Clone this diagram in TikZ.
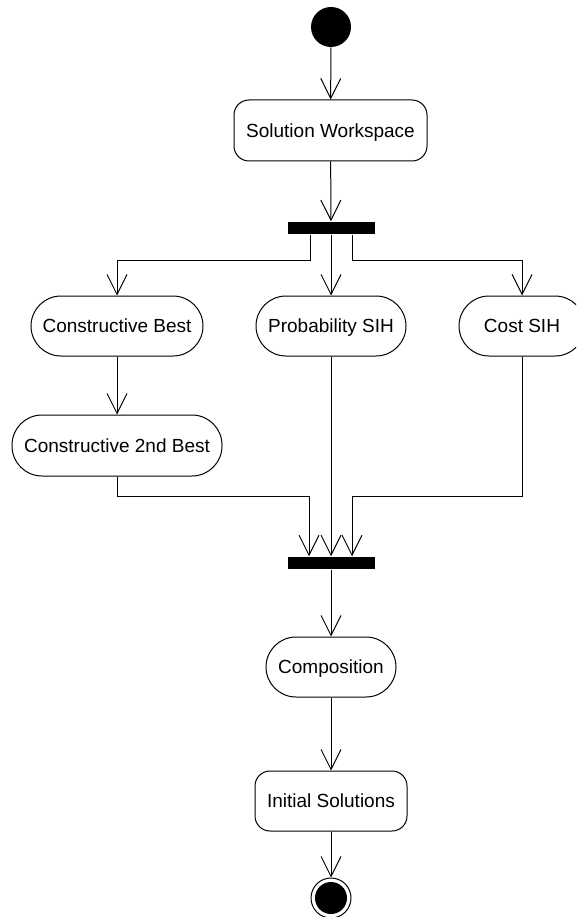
\documentclass[tikz,border=0pt]{standalone}
\usepackage{fontspec}
\setmainfont{Liberation Sans}
\usetikzlibrary{arrows.meta,calc}
\begin{document}
\begin{tikzpicture}[x=1pt,y=-1pt,
  line width=1pt,
  every node/.style={inner sep=0pt,text height=13.6pt,text depth=0pt,
    font=\fontsize{19}{22}\selectfont},
  stadium/.style={draw,rectangle,rounded corners=30pt,minimum height=60pt},
  state/.style={draw,rectangle,rounded corners=15pt,minimum height=61pt},
  bar/.style={fill=black,rectangle,minimum width=87pt,minimum height=12.5pt,text height=0pt},
  arr/.style={-{Straight Barb[length=20pt,width=20pt,line width=1pt]}}]
\useasboundingbox (0,0) rectangle (576,917);
\clip (0,0) rectangle (576,917);

% initial and final markers
\node[circle,fill=black,minimum size=40pt,text height=0pt] (start) at (331,27) {};
\node[circle,draw,minimum size=40pt,text height=0pt,
  path picture={\fill (path picture bounding box.center) circle (16pt);}] (stop) at (331,898) {};

% activities
\node[state,minimum width=193pt] (sw) at (330.5,130.5) {Solution Workspace};
\node[bar] (fork) at (331,228) {};
\node[stadium,minimum width=172pt] (cb) at (117,326) {Constructive Best};
\node[stadium,minimum width=150pt] (ps) at (331,326) {Probability SIH};
\node[stadium,minimum width=126pt] (cs) at (522,326) {Cost SIH};
\node[stadium,minimum width=210pt,minimum height=61pt] (c2) at (117,445.5) {Constructive 2nd Best};
\node[bar] (join) at (331,563) {};
\node[stadium,minimum width=130pt] (comp) at (331,667) {Composition};
\node[state,minimum width=152pt,minimum height=60pt] (init) at (331,801) {Initial Solutions};

% flow
\draw[arr] (start) -- (sw);
\draw[arr] (sw) -- (fork);
\draw[arr] ($(fork.south)+(-21,0)$) -- ++(0,26) -| (cb.north);
\draw[arr] (fork.south) -- (ps.north);
\draw[arr] ($(fork.south)+(21,0)$) -- ++(0,26) -| (cs.north);
\draw[arr] (cb) -- (c2);
\draw[arr] (c2.south) -- ++(0,20) -| ($(join.north)+(-22,0)$);
\draw[arr] (ps.south) -- (join.north);
\draw[arr] (cs.south) -- ++(0,140) -| ($(join.north)+(21,0)$);
\draw[arr] (join) -- (comp);
\draw[arr] (comp) -- (init);
\draw[arr] (init) -- (stop);
\end{tikzpicture}
\end{document}
